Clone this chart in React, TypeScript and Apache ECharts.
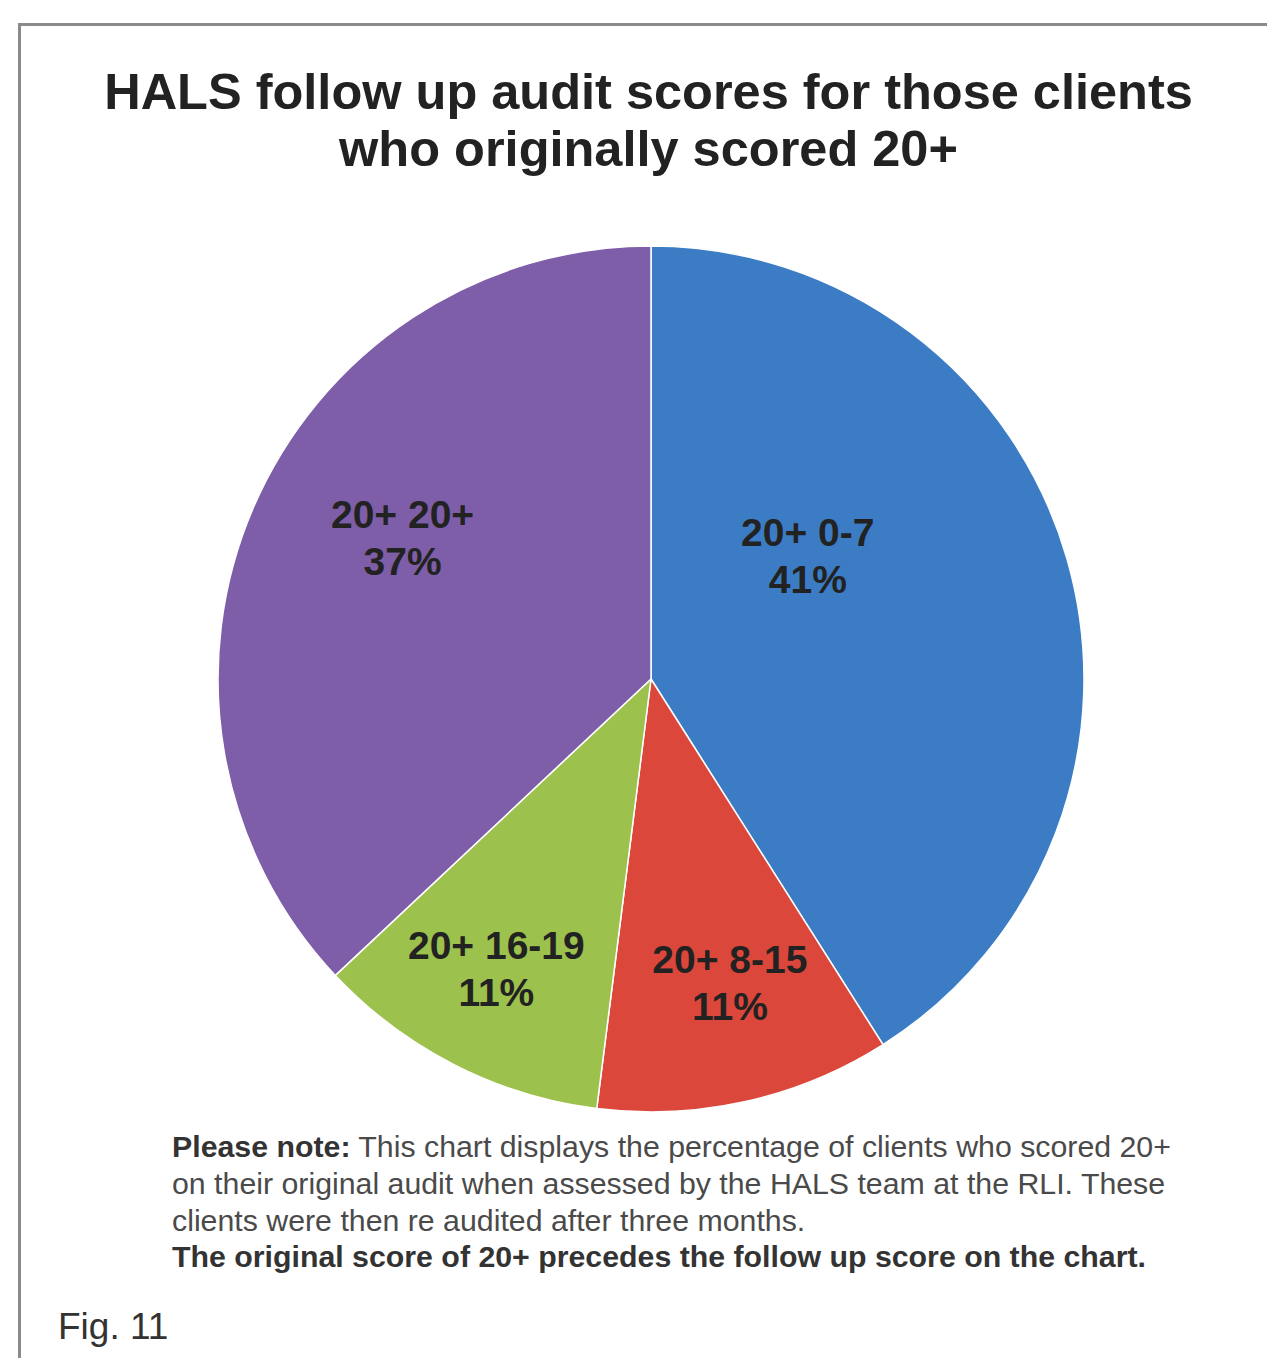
import React, { useEffect, useRef } from "react";
import * as echarts from "echarts";

const categories = ["20+ 0-7", "20+ 8-15", "20+ 16-19", "20+ 20+"];
const percentages = [41, 11, 11, 37];
const sliceColors = ["#3b7cc4", "#db473b", "#9cc14c", "#7e5ea8"];
const labelDx = [-54, 31, -55, -47];
const labelDy = [-62, 90, 94, -54];

const titleLines = ["HALS follow up audit scores for those clients", "who originally scored 20+"];
const noteLines = [
  "{b|Please note:} This chart displays the percentage of clients who scored 20+",
  "on their original audit when assessed by the HALS team at the RLI. These",
  "clients were then re audited after three months.",
  "{b|The original score of 20+ precedes the follow up score on the chart.}",
];
const figLabel = "Fig. 11";

const FONT = '"Liberation Sans", Arial, Helvetica, sans-serif';

export default function App() {
  const ref = useRef<HTMLDivElement>(null);
  useEffect(() => {
    document.body.style.margin = "0";
    if (!ref.current) return;
    const chart = echarts.init(ref.current, undefined, { renderer: "svg" });
    chart.setOption({
      animation: false,
      backgroundColor: "#ffffff",
      graphic: [
        {
          type: "rect",
          silent: true,
          shape: { x: 19.5, y: 24.5, width: 1500, height: 1500 },
          style: { fill: "none", stroke: "#8a8a8a", lineWidth: 3 },
        },
        {
          type: "text",
          x: 648.5,
          y: 62.5,
          style: {
            text: titleLines.join("\n"),
            fontFamily: FONT,
            fontSize: 50.5,
            fontWeight: "bold",
            lineHeight: 57,
            fill: "#222222",
            align: "center",
            verticalAlign: "top",
            textAlign: "center",
            textVerticalAlign: "top",
          },
        },
        {
          type: "text",
          x: 172,
          y: 1128.5,
          style: {
            text: noteLines.join("\n"),
            fontFamily: FONT,
            fontSize: 30.3,
            lineHeight: 36.7,
            fill: "#4a4a4a",
            align: "left",
            verticalAlign: "top",
            rich: {
              b: {
                fontFamily: FONT,
                fontSize: 30.3,
                fontWeight: "bold",
                lineHeight: 36.7,
                fill: "#333333",
              },
            },
          },
        },
        {
          type: "text",
          x: 58,
          y: 1304,
          style: {
            text: figLabel,
            fontFamily: FONT,
            fontSize: 37,
            lineHeight: 44,
            fill: "#333333",
            align: "left",
            verticalAlign: "top",
          },
        },
      ],
      series: [
        {
          type: "pie",
          center: [651, 679],
          radius: 433,
          startAngle: 90,
          clockwise: true,
          silent: true,
          emphasis: { disabled: true },
          itemStyle: { borderColor: "#ffffff", borderWidth: 1.5 },
          label: {
            show: true,
            position: "inside",
            formatter: "{b}\n{c}%",
            fontFamily: FONT,
            fontSize: 39,
            fontWeight: "bold",
            lineHeight: 47,
            color: "#222222",
          },
          labelLine: { show: false },
          labelLayout: (p: any) => ({ dx: labelDx[p.dataIndex], dy: labelDy[p.dataIndex] }),
          data: categories.map((name, i) => ({
            name,
            value: percentages[i],
            itemStyle: { color: sliceColors[i] },
          })),
        },
      ],
    });
    return () => chart.dispose();
  }, []);
  return <div ref={ref} style={{ width: 1267, height: 1358 }} />;
}
